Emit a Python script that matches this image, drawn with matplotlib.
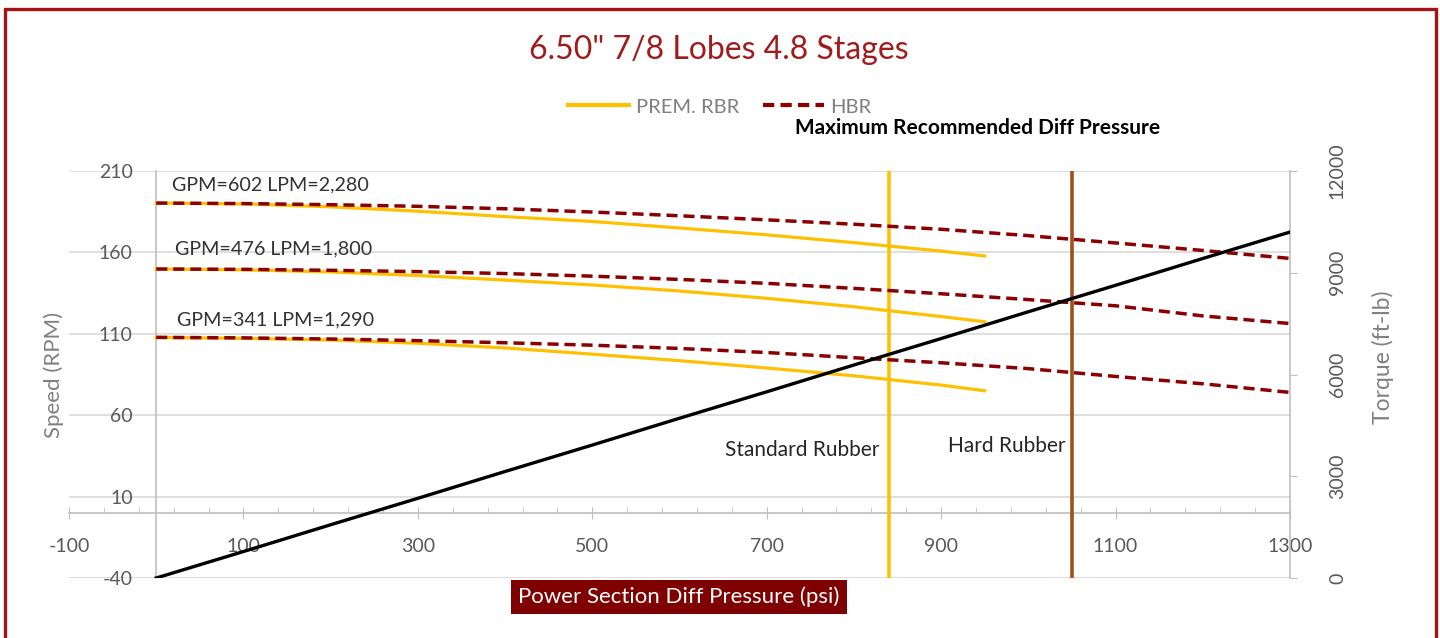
import matplotlib
matplotlib.use('Agg')
import matplotlib.pyplot as plt
from matplotlib.lines import Line2D
from matplotlib.patches import Rectangle
from matplotlib.ticker import FixedLocator
import numpy as np

plt.rcParams['font.family'] = ['Lato', 'DejaVu Sans']
plt.rcParams['axes.unicode_minus'] = False

# ---- data ----
pressure_rbr = [0, 100, 200, 300, 400, 500, 600, 700, 800, 900, 950]
pressure_hbr = [0, 100, 200, 300, 400, 500, 600, 700, 800, 900, 1000, 1100, 1200, 1300]

rbr_602 = [190.3, 189.8, 188.0, 185.3, 182.0, 179.0, 175.0, 170.8, 166.0, 160.8, 157.8]
rbr_476 = [149.8, 149.3, 148.0, 145.8, 143.0, 140.0, 136.3, 131.8, 126.6, 120.6, 117.4]
rbr_341 = [107.8, 107.2, 106.2, 104.2, 101.3, 97.5, 93.5, 89.0, 84.2, 78.5, 75.0]

hbr_602 = [190.3, 190.0, 189.3, 188.3, 186.8, 184.8, 182.5, 180.0, 177.3, 174.2, 170.3, 165.8, 161.2, 156.3]
hbr_476 = [149.8, 149.6, 149.0, 148.2, 147.0, 145.4, 143.4, 141.0, 137.9, 134.6, 131.0, 127.2, 121.0, 116.3]
hbr_341 = [107.8, 107.5, 106.8, 105.8, 104.5, 103.0, 101.0, 98.5, 95.3, 92.2, 88.6, 83.8, 79.3, 74.0]

torque = [0, 780, 1570, 2350, 3140, 3920, 4710, 5490, 6280, 7060, 7850, 8630, 9420, 10200]

flow_labels = ['GPM=602 LPM=2,280', 'GPM=476 LPM=1,800', 'GPM=341 LPM=1,290']
flow_label_pos = [(18, 201.7), (22, 162.3), (24, 118.5)]

max_std_rubber = 840
max_hard_rubber = 1050

x_ticks = [-100, 100, 300, 500, 700, 900, 1100, 1300]
y_ticks = [-40, 10, 60, 110, 160, 210]
torque_ticks = [0, 3000, 6000, 9000, 12000]

YELLOW = '#FFC000'
DKRED = '#8B0000'
BROWN = '#A0501A'
GRAY = '#595959'
AXGRAY = '#BFBFBF'

W, H = 1440, 638
fig = plt.figure(figsize=(W / 100, H / 100), dpi=100)

ax = fig.add_axes([69 / W, 1 - 578 / H, (1290 - 69) / W, (578 - 171) / H])
ax.set_xlim(-100, 1300)
ax.set_ylim(-40, 210)

ax.axvline(max_std_rubber, color=YELLOW, lw=2.6, zorder=3)
ax.axvline(max_hard_rubber, color=BROWN, lw=2.6, zorder=3)

dash = (0, (3.2, 1.7))
for r, h in [(rbr_602, hbr_602), (rbr_476, hbr_476), (rbr_341, hbr_341)]:
    ax.plot(pressure_rbr, r, color=YELLOW, lw=2.3, zorder=4)
    ax.plot(pressure_hbr, h, color=DKRED, lw=2.5, ls=dash, zorder=5)

for txt, (px, py) in zip(flow_labels, flow_label_pos):
    ax.text(px, py, txt, ha='left', va='center', fontsize=14.2, color='#333333', zorder=6)

ax.text(652, 38.6, 'Standard Rubber', ha='left', va='center', fontsize=15, color='#262626')
ax.text(908, 41, 'Hard Rubber', ha='left', va='center', fontsize=15, color='#262626')

# axes styling (Excel look: axes crossing at zero)
ax.spines['top'].set_visible(False)
ax.spines['right'].set_visible(False)
ax.spines['left'].set_position(('data', 0))
ax.spines['bottom'].set_position(('data', 0))
for s in ['left', 'bottom']:
    ax.spines[s].set_color(AXGRAY)
    ax.spines[s].set_linewidth(1.2)

ax.set_xticks(x_ticks)
ax.xaxis.set_minor_locator(FixedLocator(np.arange(-100, 1301, 40)))
ax.set_yticks(y_ticks)
ax.tick_params(axis='x', which='major', direction='inout', length=8, color=AXGRAY,
               labelsize=14, labelcolor=GRAY, pad=14)
ax.tick_params(axis='x', which='minor', direction='in', length=4, color=AXGRAY)
ax.tick_params(axis='y', length=0, labelsize=14, labelcolor=GRAY, pad=17)
ax.yaxis.grid(True, color='#D9D9D9', lw=1.2)
ax.set_axisbelow(True)

ax2 = ax.twinx()
ax2.set_ylim(0, 12000)
ax2.plot(pressure_hbr, torque, color='black', lw=2.4, zorder=6)
ax2.set_yticks(torque_ticks)
for s in ['left', 'top', 'bottom']:
    ax2.spines[s].set_visible(False)
ax2.spines['right'].set_color(AXGRAY)
ax2.spines['right'].set_linewidth(1.2)
ax2.tick_params(axis='y', direction='out', length=5, color=AXGRAY,
                labelsize=14, labelcolor=GRAY, pad=23)
for lab in ax2.get_yticklabels():
    lab.set_rotation(90)
    lab.set_va('center')

# labels and title
fig.text(719 / W, 1 - 50 / H, '6.50" 7/8 Lobes 4.8 Stages', ha='center', va='center',
         fontsize=23, color='#A01C1C')
fig.text(54 / W, 1 - 375 / H, 'Speed (RPM)', rotation=90, ha='center', va='center',
         fontsize=16, color='#808080')
fig.text(1383 / W, 1 - 357 / H, 'Torque (ft-lb)', rotation=90, ha='center', va='center',
         fontsize=16.5, color='#808080')
fig.text(795 / W, 1 - 128 / H, 'Maximum Recommended Diff Pressure', ha='left', va='center',
         fontsize=15, fontweight='bold', color='black')
fig.text(679 / W, 1 - 597 / H, 'Power Section Diff Pressure (psi)', ha='center', va='center',
         fontsize=16, color='white',
         bbox=dict(boxstyle='square,pad=0.32', fc='#7F0000', ec='none'))

handles = [Line2D([], [], color=YELLOW, lw=3),
           Line2D([], [], color=DKRED, lw=3, ls=(0, (2.7, 1.5)))]
fig.legend(handles, ['PREM. RBR', 'HBR'], loc='center', bbox_to_anchor=(720 / W, 1 - 107 / H),
           ncol=2, frameon=False, fontsize=14.5, labelcolor='#7F7F7F',
           handlelength=3.0, handletextpad=0.35, columnspacing=1.2)

# outer border
fig.patches.append(Rectangle((5 / W, -0.05), (1436 - 5) / W, 1.05 - 9 / H,
                             transform=fig.transFigure, fill=False, ec='#A31515', lw=2.4))

plt.savefig('out.png', dpi=100)
plt.close('all')
